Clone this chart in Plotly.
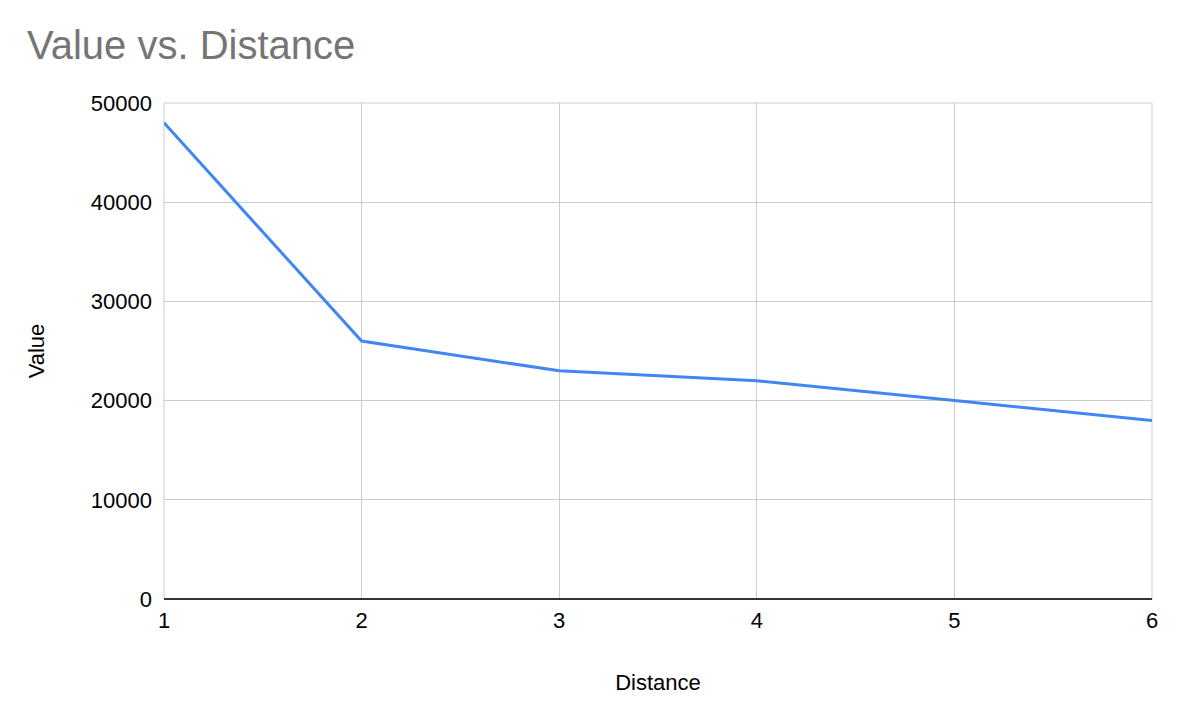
import plotly.graph_objects as go

# data
distance = [1, 2, 3, 4, 5, 6]
value = [48000, 26000, 23000, 22000, 20000, 18000]

y_ticks = [0, 10000, 20000, 30000, 40000, 50000]
y_tick_labels = ["0", "10000", "20000", "30000", "40000", "50000"]

fig = go.Figure()

fig.add_trace(
    go.Scatter(
        x=distance,
        y=value,
        mode="lines",
        line=dict(color="#4285f4", width=3),
        name="Value"
    )
)

# page body has an 8px margin, so the margins are shifted accordingly
fig.update_layout(
    width=1178,
    height=726,
    plot_bgcolor="white",
    paper_bgcolor="white",
    font=dict(family="Liberation Sans, Arial, sans-serif", color="black", size=22),
    title=dict(
        text="Value vs. Distance",
        x=0.0161,
        xanchor="left",
        y=0.9497,
        yanchor="middle",
        font=dict(size=40, color="#757575")
    ),
    margin=dict(l=156, r=34, t=95, b=135),
    showlegend=False
)

fig.update_xaxes(
    range=[1, 6],
    tickvals=distance,
    showgrid=True,
    gridcolor="#cccccc",
    gridwidth=1,
    zeroline=False,
    showline=False,
    ticks="",
    ticklabelstandoff=6,
    title=dict(text="Distance", font=dict(size=22), standoff=42)
)

fig.update_yaxes(
    range=[0, 50000],
    tickvals=y_ticks,
    ticktext=y_tick_labels,
    showgrid=True,
    gridcolor="#cccccc",
    gridwidth=1,
    zeroline=True,
    zerolinecolor="#333333",
    zerolinewidth=2,
    showline=False,
    ticks="",
    ticklabelstandoff=11,
    title=dict(text="Value", font=dict(size=22), standoff=40)
)

# light border round the plot area
fig.add_shape(type="line", xref="paper", yref="paper", x0=1, x1=1, y0=0, y1=1,
              line=dict(color="#cccccc", width=1), layer="below")
fig.add_shape(type="line", xref="paper", yref="paper", x0=0, x1=1, y0=1, y1=1,
              line=dict(color="#cccccc", width=1), layer="below")
fig.add_shape(type="line", xref="paper", yref="paper", x0=0, x1=0, y0=0, y1=1,
              line=dict(color="#cccccc", width=1), layer="below")

fig.write_html("out.html")
